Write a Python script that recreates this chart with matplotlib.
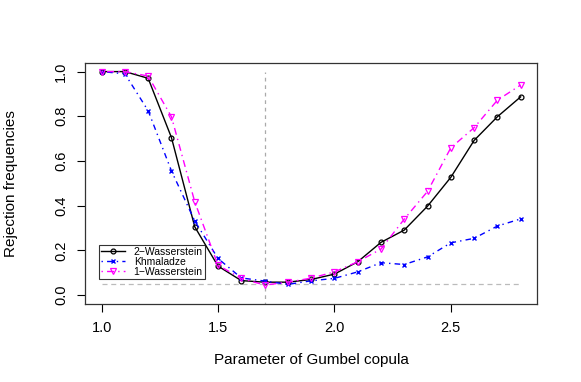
import matplotlib
matplotlib.use("Agg")
import matplotlib.pyplot as plt
import numpy as np

plt.rcParams['font.family'] = ['Liberation Sans', 'DejaVu Sans']

# Gumbel copula parameter values
theta = [1.0, 1.1, 1.2, 1.3, 1.4, 1.5, 1.6, 1.7, 1.8, 1.9,
         2.0, 2.1, 2.2, 2.3, 2.4, 2.5, 2.6, 2.7, 2.8]

# Rejection frequencies
wass2 = [1.00, 1.00, 0.97, 0.705, 0.306, 0.13, 0.065, 0.058, 0.058, 0.07,
         0.094, 0.149, 0.236, 0.291, 0.398, 0.527, 0.692, 0.798, 0.887]
khmal = [1.00, 0.99, 0.825, 0.556, 0.332, 0.164, 0.077, 0.063, 0.048, 0.064,
         0.075, 0.104, 0.145, 0.137, 0.171, 0.234, 0.254, 0.309, 0.341]
wass1 = [1.00, 1.00, 0.98, 0.798, 0.418, 0.134, 0.075, 0.045, 0.058, 0.076,
         0.104, 0.149, 0.206, 0.340, 0.464, 0.659, 0.749, 0.872, 0.94]

alpha_level = 0.05
true_theta = 1.7

fig = plt.figure(figsize=(5.81, 3.82), dpi=100)
ax = fig.add_axes([0.146, 0.204, 0.779, 0.632])

# reference lines
ax.hlines(alpha_level, theta[0], theta[-1], colors='#bbbbbb',
          linestyles=(0, (4, 3)), linewidth=0.9)
ax.vlines(true_theta, -0.05, 1.0, colors='#aaaaaa',
          linestyles=(0, (3, 3)), linewidth=0.9)

ax.plot(theta, wass2, color='black', linestyle='-', linewidth=1.0,
        marker='o', markersize=3.5, markerfacecolor='none',
        markeredgewidth=0.9, label='2\u2212Wasserstein')
ax.plot(theta, khmal, color='blue', linestyle=(0, (1, 3, 4, 3)),
        linewidth=1.0, marker='x', markersize=3.5, markeredgewidth=1.0,
        label='Khmaladze')
ax.plot(theta, wass1, color='magenta', linestyle=(0, (1, 3, 5, 3)),
        linewidth=1.0, marker='v', markersize=5, markerfacecolor='none',
        markeredgewidth=0.9, label='1\u2212Wasserstein')

ax.set_xlim(0.928, 2.872)
ax.set_ylim(-0.04, 1.04)
ax.set_xticks([1.0, 1.5, 2.0, 2.5])
ax.set_yticks(np.arange(0, 1.01, 0.2))
ax.set_xticklabels(['1.0', '1.5', '2.0', '2.5'])
ax.set_yticklabels(['0.0', '0.2', '0.4', '0.6', '0.8', '1.0'],
                   rotation=90, va='center')
ax.tick_params(direction='out', length=6, width=0.8, labelsize=10.5, pad=6)
for s in ax.spines.values():
    s.set_linewidth(0.9)
    s.set_color('#333333')

ax.set_xlabel('Parameter of Gumbel copula', fontsize=11, labelpad=13)
ax.set_ylabel('Rejection frequencies', fontsize=11, labelpad=26)

leg = ax.legend(loc='lower left', bbox_to_anchor=(0.032, 0.103), fontsize=7.5,
                frameon=True, fancybox=False, borderpad=0.2,
                labelspacing=0.0, handlelength=2.3, handletextpad=0.8,
                borderaxespad=0)
leg.get_frame().set_edgecolor('black')
leg.get_frame().set_linewidth(0.8)

plt.savefig('out.png', dpi=100)
